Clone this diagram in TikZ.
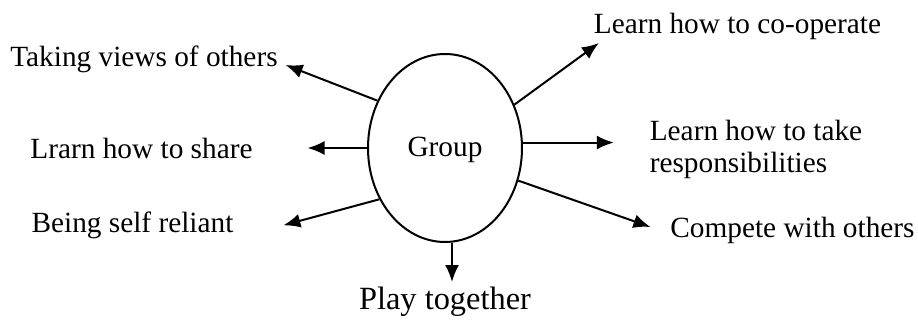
\documentclass[tikz,border=0pt]{standalone}
\usepackage{fontspec}
\setmainfont{Liberation Serif}
\usetikzlibrary{arrows.meta,shapes}

\begin{document}
\begin{tikzpicture}[x = 0.5pt, y = 0.5pt, line width = 1pt,
    >={Latex[length=8.5pt, width=7pt]},
    txt/.style = {inner sep = 0pt, font = \fontsize{14.65}{16}\selectfont},
    lbl/.style = {txt, text height = 10pt, text depth = 3.2pt}]
  \useasboundingbox (0,0) rectangle (918,-326);

  \node[ellipse, draw=black, txt, text height = 10pt, text depth = 1.2pt,
        minimum width = 77pt, minimum height = 94pt] at (445,-148) (grp) {Group};

  \node[lbl, left of = grp, node distance = 150.5pt, yshift = 44.35pt] (views) {Taking views of others};
  \node[lbl, left of = grp, node distance = 151.75pt, yshift = -1.65pt] (share) {Lrarn how to share};
  \node[lbl, left of = grp, node distance = 156.25pt, yshift = -38.65pt] (self) {Being self reliant};

  \node[lbl, below of = grp, node distance = 76.8pt, font = \fontsize{16.2}{18}\selectfont,
        text height = 11pt, text depth = 3.56pt] (play) {Play together};

  \node[lbl, right of = grp, node distance = 146.25pt, yshift = 60.85pt] (coop) {Learn how to co-operate};
  \node[txt, right of = grp, node distance = 155.5pt, yshift = -0.6pt, align = left] (resp)
  {Learn how to take\\responsibilities};
  \node[lbl, right of = grp, node distance = 173.75pt, yshift = -41.15pt] (compete) {Compete with others};

  \draw[->] (grp.145) -- ([xshift=3.5pt, yshift=-2.85pt]views.east);
  \draw[->] (grp.west) -- ([xshift=27pt]share.east |- grp.west);
  \draw[->] (grp.218) -- ([xshift=24.5pt]self.east);
  \draw[->] ([xshift=3.5pt]grp.south) -- ([xshift=3.5pt, yshift=2pt]play.north -| grp.south);
  \draw[->] (grp.32) -- ([xshift=3pt, yshift=-1.25pt]coop.south west);
  \draw[->] (grp.4) -- ([xshift=-17.5pt]resp.west |- grp.4);
  \draw[->] (grp.336) -- ([xshift=-9.5pt, yshift=1.65pt]compete.west);

\end{tikzpicture}
\end{document}
